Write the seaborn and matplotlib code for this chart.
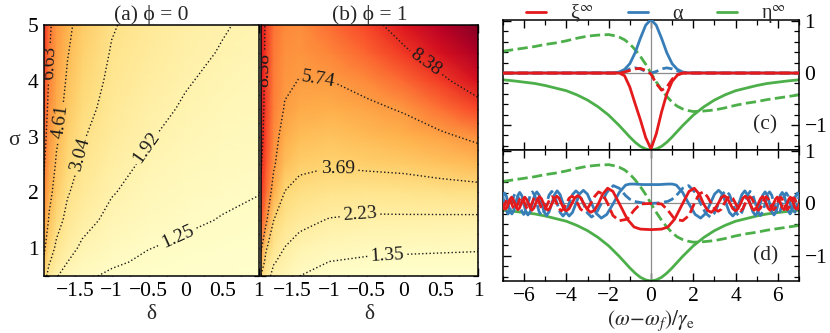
import matplotlib
matplotlib.use("Agg")
import matplotlib.pyplot as plt
import numpy as np
import seaborn as sns
from matplotlib.lines import Line2D
from matplotlib.ticker import MultipleLocator

# ---------------- panels (a), (b): field over (delta, sigma) ----------------
delta_nodes = [-1.92, -1.85, -1.75, -1.6, -1.4, -1.0, -0.5, 0.0, 0.5, 1.0]
sigma_nodes = [0.5, 0.75, 1.0, 1.5, 2.0, 2.5, 3.0, 3.5, 4.0, 4.5, 5.0]

# rows follow sigma_nodes, columns follow delta_nodes
field_phi0 = [
    [3.57, 2.57, 1.98, 1.56, 1.34, 1.17, 1.10, 1.06, 1.05, 1.04],
    [4.32, 3.13, 2.45, 1.92, 1.56, 1.32, 1.17, 1.11, 1.08, 1.06],
    [4.88, 3.68, 2.80, 2.20, 1.78, 1.42, 1.26, 1.17, 1.13, 1.10],
    [5.75, 4.44, 3.50, 2.71, 2.20, 1.70, 1.42, 1.32, 1.23, 1.17],
    [6.35, 5.01, 4.05, 3.13, 2.57, 1.97, 1.60, 1.42, 1.33, 1.26],
    [6.78, 5.50, 4.44, 3.57, 2.85, 2.20, 1.78, 1.56, 1.42, 1.34],
    [7.15, 5.90, 4.80, 3.91, 3.13, 2.45, 1.97, 1.70, 1.53, 1.42],
    [7.49, 6.20, 5.13, 4.20, 3.44, 2.62, 2.12, 1.85, 1.64, 1.51],
    [7.80, 6.47, 5.42, 4.44, 3.68, 2.80, 2.28, 1.97, 1.76, 1.60],
    [8.05, 6.70, 5.66, 4.67, 3.91, 2.96, 2.45, 2.09, 1.88, 1.70],
    [8.28, 6.90, 5.90, 4.88, 4.11, 3.13, 2.57, 2.20, 1.97, 1.78],
]
field_phi1 = [
    [3.60, 2.60, 1.95, 1.70, 1.35, 1.12, 1.08, 1.07, 1.06, 1.05],
    [4.80, 3.10, 2.30, 1.95, 1.60, 1.34, 1.27, 1.24, 1.22, 1.20],
    [6.00, 3.80, 2.80, 2.20, 1.85, 1.60, 1.47, 1.44, 1.42, 1.40],
    [7.40, 6.00, 3.70, 2.90, 2.50, 2.17, 2.05, 2.04, 2.02, 2.00],
    [8.10, 6.90, 5.10, 3.65, 3.20, 2.90, 2.85, 2.95, 3.05, 3.15],
    [8.50, 7.40, 5.95, 4.50, 4.00, 3.80, 3.95, 4.05, 4.35, 4.65],
    [8.80, 7.70, 6.30, 5.10, 4.60, 4.40, 4.65, 4.95, 5.45, 6.10],
    [9.00, 7.85, 6.50, 5.65, 5.20, 5.05, 5.40, 5.90, 6.85, 7.75],
    [9.10, 7.95, 6.60, 5.95, 5.70, 5.72, 6.30, 7.00, 8.05, 9.30],
    [9.20, 8.00, 6.70, 6.15, 6.00, 6.40, 7.10, 8.10, 9.30, 10.50],
    [9.30, 8.05, 6.80, 6.30, 6.20, 6.90, 7.80, 9.10, 10.30, 11.40],
]
levels_phi0 = [1.25, 1.92, 3.04, 4.61, 6.63]
levels_phi1 = [1.35, 2.23, 3.69, 5.74, 8.38]
delta_ticks = [-1.5, -1, -0.5, 0, 0.5, 1]
sigma_ticks = [1, 2, 3, 4, 5]

# ---------------- panels (c), (d): spectra ----------------
omega_eta = [-7, -6.5, -6, -5.5, -5, -4.5, -4, -3.5, -3, -2.5, -2, -1.75, -1.5,
             -1.25, -1, -0.75, -0.5, -0.25, 0, 0.25, 0.5, 0.75, 1, 1.25, 1.5,
             1.75, 2, 2.5, 3, 3.5, 4, 4.5, 5, 5.5, 6, 6.5, 7]
eta_re = [-0.13, -0.15, -0.175, -0.20, -0.24, -0.29, -0.34, -0.42, -0.52, -0.65,
          -0.81, -0.91, -1.01, -1.12, -1.23, -1.33, -1.41, -1.46, -1.48, -1.46,
          -1.41, -1.33, -1.23, -1.12, -1.01, -0.91, -0.81, -0.65, -0.52, -0.42,
          -0.34, -0.29, -0.24, -0.20, -0.175, -0.15, -0.13]
eta_im = [0.42, 0.45, 0.48, 0.51, 0.55, 0.58, 0.62, 0.67, 0.71, 0.73, 0.74, 0.72,
          0.69, 0.64, 0.56, 0.45, 0.32, 0.17, 0.0, -0.17, -0.32, -0.45, -0.56,
          -0.64, -0.69, -0.72, -0.74, -0.73, -0.71, -0.67, -0.62, -0.58, -0.55,
          -0.51, -0.48, -0.45, -0.42]

# panel (c)
omega_c = [-7, -1.75, -1.5, -1.25, -1.0, -0.75, -0.5, -0.25, 0, 0.25, 0.5, 0.75,
           1.0, 1.25, 1.5, 1.75, 7]
alpha_c_re = [0, 0.005, 0.02, 0.07, 0.18, 0.39, 0.67, 0.92, 1.03, 0.92, 0.67, 0.39,
              0.18, 0.07, 0.02, 0.005, 0]
alpha_c_im = [0, 0, 0.01, 0.04, 0.08, 0.10, 0.08, 0.03, 0.0, 0.03, 0.08, 0.10,
              0.08, 0.04, 0.01, 0, 0]
xi_c_re = [0, 0, 0.0, -0.05, -0.27, -0.59, -0.90, -1.24, -1.46, -1.17, -0.75, -0.40,
           -0.16, -0.04, 0.0, 0, 0]
xi_c_im = [0, 0, 0, 0.02, 0.05, 0.08, 0.09, 0.05, -0.02, -0.20, -0.33, -0.27,
           -0.12, -0.03, 0.0, 0, 0]

# panel (d): curves are symmetric in omega, only the half omega >= 0 is listed
omega_alpha_d = [0, 0.4, 0.8, 1.0, 1.2, 1.5, 1.78, 2.09, 2.35, 2.59, 2.81, 3.01,
                 3.2, 3.38, 3.55, 3.71, 3.87, 4.02, 4.16, 4.3, 4.44, 4.57, 4.69,
                 4.82, 4.94, 5.06, 5.17, 5.29, 5.4, 5.5, 5.61, 5.71, 5.82, 5.92,
                 6.02, 6.11, 6.21, 6.3, 6.4, 6.49, 6.58, 6.67, 6.76, 6.84, 6.93, 7.01]
alpha_d_re = [0.36, 0.36, 0.37, 0.37, 0.35, 0.21,
              0, -0.21, -0.28, -0.19, 0, 0.18, 0.25, 0.18,
              0, -0.17, -0.24, -0.17, 0, 0.17, 0.24, 0.16,
              0, -0.16, -0.23, -0.16, 0, 0.16, 0.22, 0.16,
              0, -0.16, -0.22, -0.16, 0, 0.15, 0.21, 0.15,
              0, -0.14, -0.20, -0.14, 0, 0.14, 0.20, 0.14]
alpha_d_im = [0, 0.01, 0.04, 0.08, 0.15, 0.29,
              0.34, 0.21, 0, -0.19, -0.26, -0.18, 0, 0.18,
              0.24, 0.17, 0, -0.17, -0.24, -0.17, 0, 0.16,
              0.23, 0.16, 0, -0.16, -0.23, -0.16, 0, 0.16,
              0.22, 0.16, 0, -0.16, -0.21, -0.15, 0, 0.15,
              0.20, 0.14, 0, -0.14, -0.20, -0.14, 0, 0.14]
omega_xi_d = [0, 0.5, 0.8, 1.12, 1.5, 1.8, 2.05, 2.28, 2.48, 2.67, 2.85, 3.02,
              3.18, 3.33, 3.47, 3.61, 3.74, 3.87, 4.0, 4.12, 4.24, 4.35, 4.46,
              4.57, 4.68, 4.78, 4.88, 4.98, 5.08, 5.18, 5.27, 5.36, 5.45, 5.54,
              5.63, 5.72, 5.8, 5.89, 5.97, 6.05, 6.13, 6.21, 6.29, 6.37, 6.44,
              6.52, 6.59, 6.67, 6.74, 6.81, 6.89, 6.96, 7.03]
xi_d_re = [-0.50, -0.49, -0.45,
           -0.30, 0, 0.23, 0.29, 0.18, 0, -0.13, -0.17,
           -0.11, 0, 0.11, 0.15, 0.10, 0, -0.10, -0.14,
           -0.10, 0, 0.10, 0.14, 0.09, 0, -0.09, -0.13,
           -0.09, 0, 0.09, 0.13, 0.09, 0, -0.09, -0.13,
           -0.08, 0, 0.08, 0.12, 0.08, 0, -0.08, -0.12,
           -0.08, 0, 0.08, 0.12, 0.08, 0, -0.08, -0.11,
           -0.08, 0]
xi_d_im = [0, -0.01, -0.13,
           -0.30, -0.33, -0.23, 0, 0.18, 0.22, 0.13, 0,
           -0.11, -0.15, -0.11, 0, 0.10, 0.14, 0.10, 0,
           -0.10, -0.14, -0.10, 0, 0.09, 0.13, 0.09, 0,
           -0.09, -0.13, -0.09, 0, 0.09, 0.13, 0.09, 0,
           -0.08, -0.12, -0.08, 0, 0.08, 0.12, 0.08, 0,
           -0.08, -0.12, -0.08, 0, 0.08, 0.11, 0.08, 0,
           -0.08, -0.11]


def mirror_even(x_half, y_half):
    x = [-v for v in reversed(x_half[1:])] + list(x_half)
    y = list(reversed(y_half[1:])) + list(y_half)
    return x, y


sns.set_theme(style="ticks", rc={"axes.edgecolor": "black", "axes.linewidth": 1.1,
                                 "xtick.color": "black", "ytick.color": "black"})
plt.rcParams["font.family"] = ["Liberation Serif", "DejaVu Serif"]
plt.rcParams["mathtext.fontset"] = "stix"

colors = sns.color_palette("Set1", 3)
c_xi, c_alpha, c_eta = colors[0], colors[1], colors[2]
FS = 15.5

fig = plt.figure(figsize=(8.3, 3.33), dpi=100)
ax_a = fig.add_axes([0.0530, 0.1712, 0.2590, 0.7538])
ax_b = fig.add_axes([0.3145, 0.1712, 0.2614, 0.7538])
ax_c = fig.add_axes([0.6060, 0.5495, 0.3566, 0.3904])
ax_d = fig.add_axes([0.6060, 0.1562, 0.3566, 0.3934])


def draw_field(ax, field, levels, label_pos, title):
    ax.set_xlim(-1.92, 1.0)
    ax.set_ylim(0.5, 5.0)
    ax.pcolormesh(delta_nodes, sigma_nodes, np.array(field), shading="gouraud",
                  cmap="YlOrRd", vmin=1.0, vmax=11.5, rasterized=True)
    cs = ax.contour(delta_nodes, sigma_nodes, np.array(field), levels=levels,
                    colors="k", linestyles=":", linewidths=1.0)
    ax.clabel(cs, fmt="%.2f", fontsize=14, inline=True, inline_spacing=3,
              manual=label_pos)
    ax.set_xticks(delta_ticks)
    ax.set_yticks(sigma_ticks)
    ax.set_xticklabels(["\u22121.5", "\u22121", "\u22120.5", "0", "0.5", "1"])
    ax.xaxis.set_minor_locator(MultipleLocator(0.25))
    ax.yaxis.set_minor_locator(MultipleLocator(0.25))
    ax.tick_params(which="both", direction="in", top=True, right=True,
                   labelsize=FS, pad=4)
    ax.tick_params(which="major", length=6, width=1)
    ax.tick_params(which="minor", length=3.5, width=0.9)
    ax.set_xlabel("\u03b4", fontsize=FS, labelpad=3)
    ax.set_title(title, fontsize=FS, pad=2)


draw_field(ax_a, field_phi0, levels_phi0,
           [(-1.84, 4.32), (-1.73, 3.27), (-1.46, 2.68), (-0.56, 2.84), (-0.1, 1.22)],
           "(a) \u03d5 = 0")
ax_a.set_ylabel("\u03c3", fontsize=FS, rotation=0, labelpad=10)

draw_field(ax_b, field_phi1, levels_phi1,
           [(-1.88, 4.2), (-1.15, 3.98), (-0.88, 2.4), (-0.59, 1.66), (-0.22, 0.89),
            (0.29, 4.3)],
           "(b) \u03d5 = 1")
ax_b.tick_params(labelleft=False)


def draw_curve(ax, x, y, color, dashed=False, z=2):
    sns.lineplot(x=x, y=y, ax=ax, color=color, lw=2.0, estimator=None, sort=False,
                 linestyle="--" if dashed else "-", legend=False, zorder=z)


def style_spectrum(ax, tag):
    ax.set_xlim(-7, 7)
    ax.set_ylim(-1.48, 1.02)
    ax.axhline(0, color="#8c8c8c", lw=0.9, zorder=1)
    ax.axvline(0, color="#8c8c8c", lw=0.9, zorder=1)
    ax.set_xticks([-6, -4, -2, 0, 2, 4, 6])
    ax.set_yticks([-1, 0, 1])
    ax.set_xticklabels(["\u22126", "\u22124", "\u22122", "0", "2", "4", "6"])
    ax.set_yticklabels(["\u22121", "0", "1"])
    ax.xaxis.set_minor_locator(MultipleLocator(1))
    ax.yaxis.set_minor_locator(MultipleLocator(0.2))
    ax.tick_params(which="both", direction="in", top=True, right=True, left=True,
                   labelleft=False, labelright=True, labelsize=FS, pad=4)
    ax.tick_params(which="major", length=6, width=1)
    ax.tick_params(which="minor", length=3.5, width=0.9)
    ax.text(5.4, -1.0, tag, ha="center", va="center", fontsize=FS)
    ax.set_xlabel("")
    ax.set_ylabel("")


# panel (c)
draw_curve(ax_c, omega_eta, eta_im, c_eta, dashed=True)
draw_curve(ax_c, omega_eta, eta_re, c_eta)
draw_curve(ax_c, omega_c, alpha_c_im, c_alpha, dashed=True, z=3)
draw_curve(ax_c, omega_c, alpha_c_re, c_alpha, z=3)
draw_curve(ax_c, omega_c, xi_c_im, c_xi, dashed=True, z=4)
draw_curve(ax_c, omega_c, xi_c_re, c_xi, z=4)
style_spectrum(ax_c, "(c)")
ax_c.tick_params(labelbottom=False)

# panel (d)
draw_curve(ax_d, omega_eta, eta_im, c_eta, dashed=True)
draw_curve(ax_d, omega_eta, eta_re, c_eta)
x_al, y_al = mirror_even(omega_alpha_d, alpha_d_im)
draw_curve(ax_d, x_al, y_al, c_alpha, dashed=True, z=3)
x_al, y_al = mirror_even(omega_alpha_d, alpha_d_re)
draw_curve(ax_d, x_al, y_al, c_alpha, z=3)
x_xi, y_xi = mirror_even(omega_xi_d, xi_d_im)
draw_curve(ax_d, x_xi, y_xi, c_xi, dashed=True, z=4)
x_xi, y_xi = mirror_even(omega_xi_d, xi_d_re)
draw_curve(ax_d, x_xi, y_xi, c_xi, z=4)
style_spectrum(ax_d, "(d)")
ax_d.set_xlabel(r"$(\omega\!-\!\omega_f)/\gamma_\mathrm{e}$", fontsize=FS,
                labelpad=2)

handles = [Line2D([], [], color=c, lw=2.0) for c in (c_xi, c_alpha, c_eta)]
labels = ["\u03be$^{\\infty}$", "\u03b1", "\u03b7$^{\\infty}$"]
fig.legend(handles, labels, loc="center", bbox_to_anchor=(0.79, 0.957), ncol=3,
           frameon=False, fontsize=14.5, handlelength=1.0, handletextpad=1.2,
           columnspacing=1.7, borderaxespad=0)

fig.savefig("out.png", dpi=100)
